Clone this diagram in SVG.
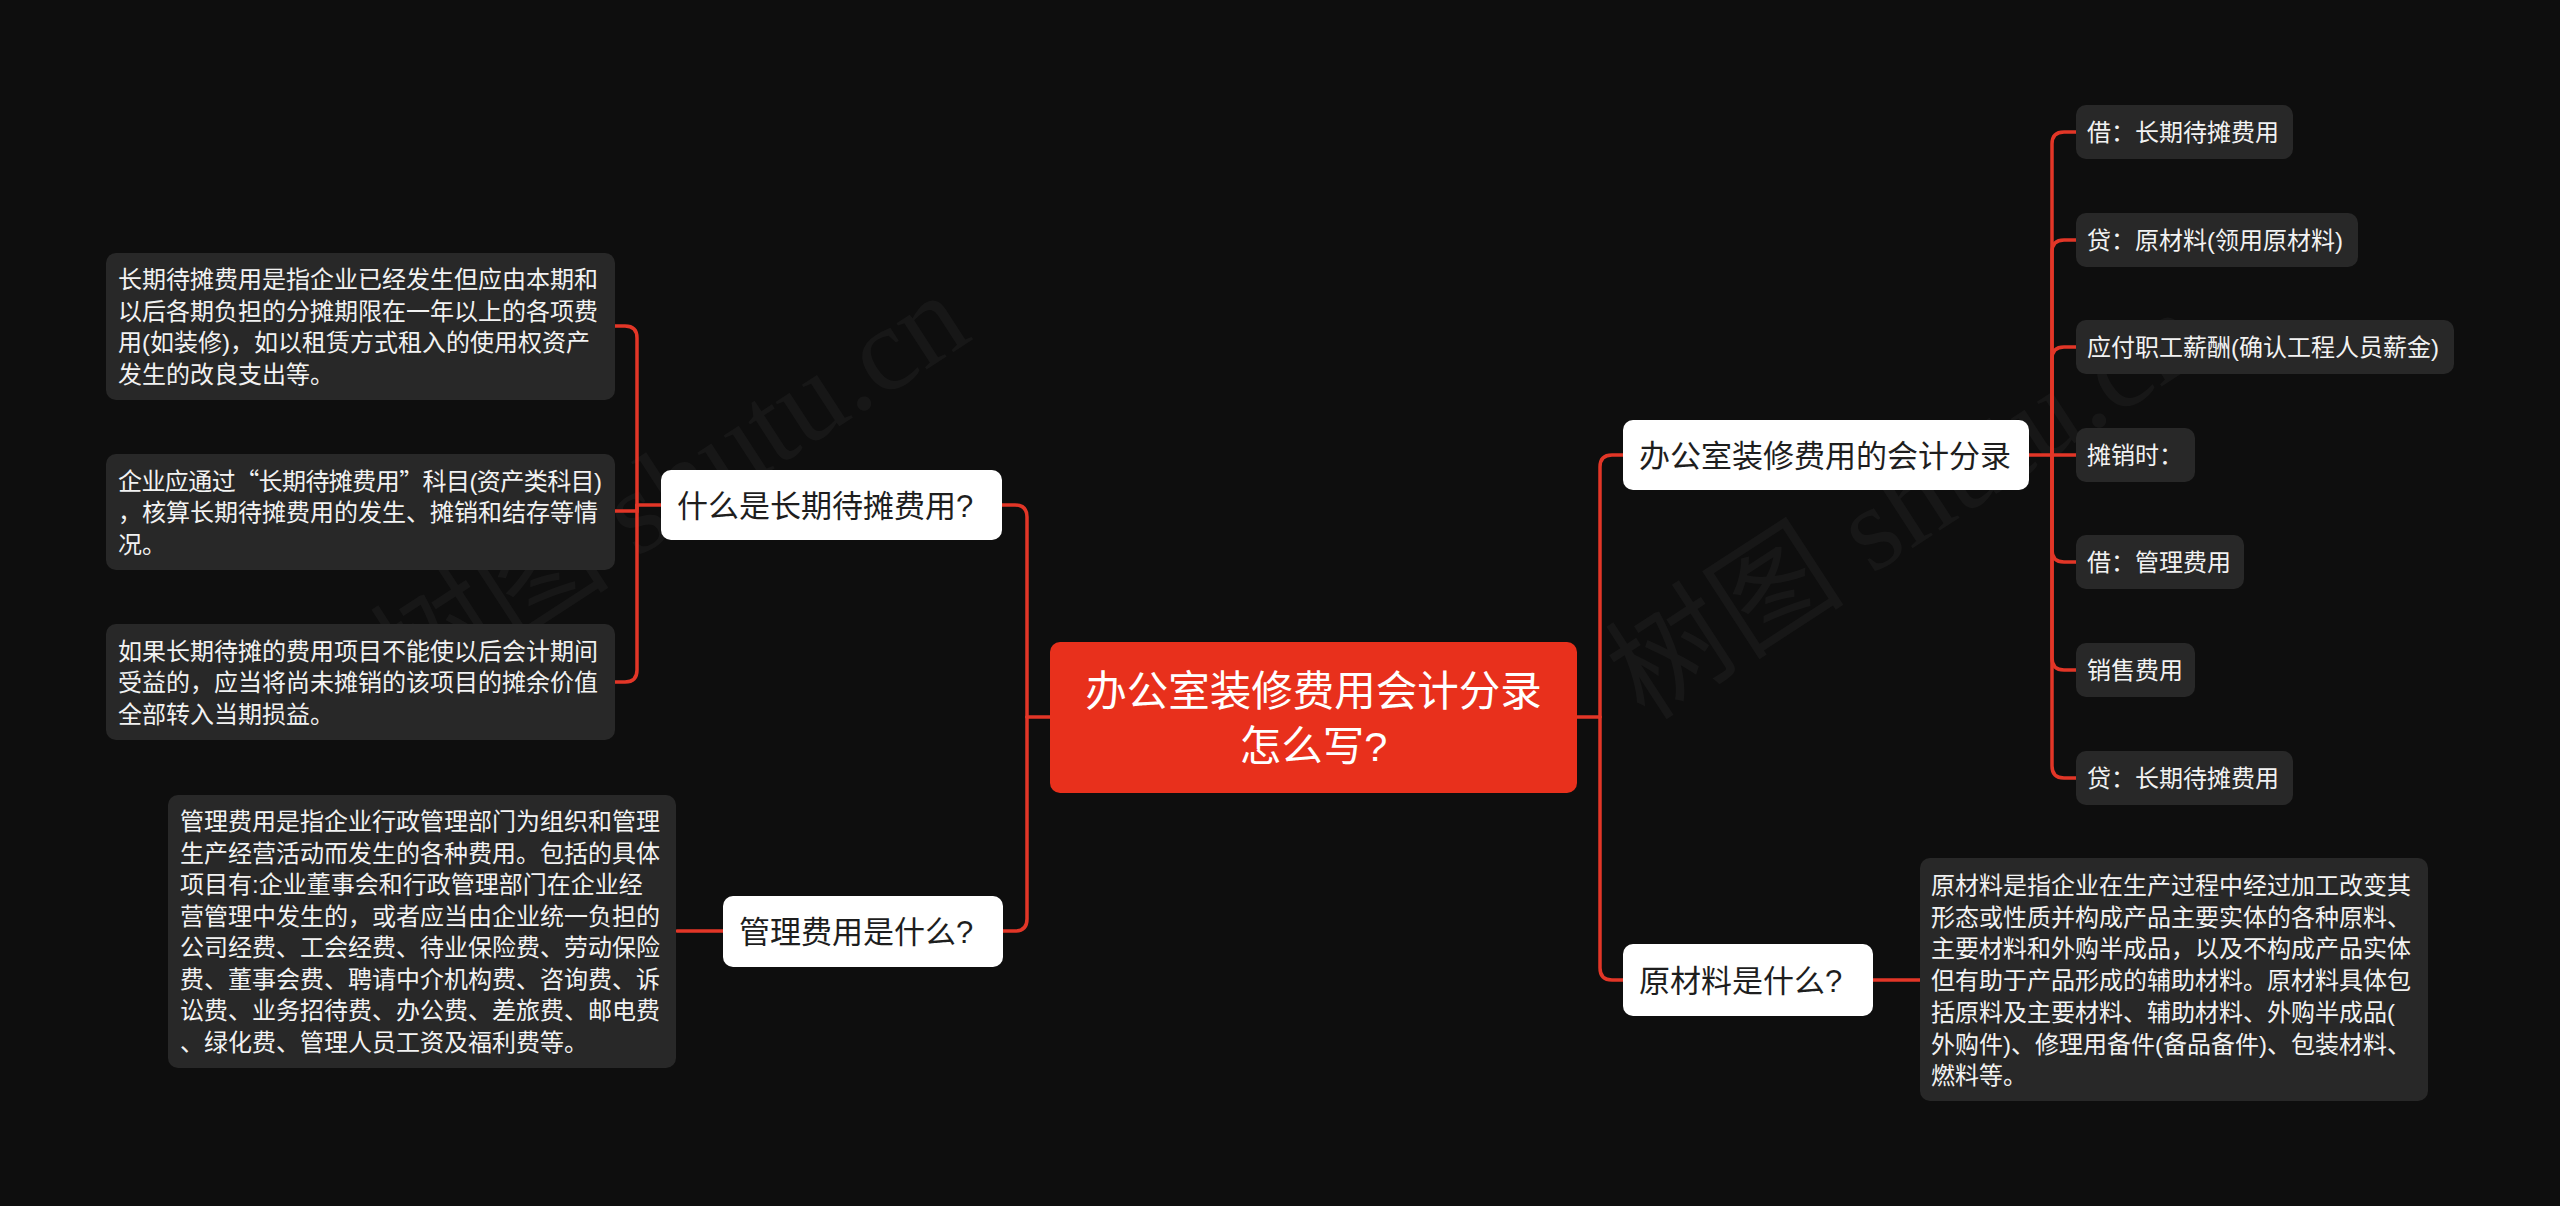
<svg xmlns="http://www.w3.org/2000/svg" width="2560" height="1206" viewBox="0 0 2560 1206">
<style>
text{font-family:"Liberation Sans","Noto Sans CJK SC",sans-serif}
.q{font-family:"Noto Sans CJK SC","Liberation Sans",sans-serif}
.desc{fill:#282828}
.dt{font-size:24px;fill:#f2f2f2}
.wn{fill:#ffffff}
.wt{font-size:31px;fill:#1e1e1e}
.lt{font-size:24px;fill:#f2f2f2}
.ct{font-size:41.5px;fill:#ffffff}
.con path{fill:none;stroke:#e23627;stroke-width:3.5;stroke-linecap:round}
.wm{font-family:"Liberation Serif","Noto Sans CJK SC",serif;font-size:120px;fill:#ffffff;fill-opacity:0.04}
</style>
<rect width="2560" height="1206" fill="#0e0e0e"/>
<g id="watermarks">
<text class="wm" transform="translate(410,705) rotate(-33)">树图 shutu.cn</text>
<text class="wm" transform="translate(1645,722) rotate(-33)">树图 shutu.cn</text>
</g>
<g id="connectors" class="con">
<path d="M1050 717 H1027"/>
<path d="M1027 717 V517 Q1027 505 1015 505 H1002"/>
<path d="M1027 717 V919 Q1027 931 1015 931 H1003"/>
<path d="M661 505 H637"/>
<path d="M637 505 V338 Q637 326 625 326 H615"/>
<path d="M637 505 V511 H615"/>
<path d="M637 505 V670 Q637 682 625 682 H615"/>
<path d="M723 931 H677"/>
<path d="M1577 717 H1600"/>
<path d="M1600 717 V467 Q1600 455 1612 455 H1623"/>
<path d="M1600 717 V968 Q1600 980 1612 980 H1623"/>
<path d="M1873 980 H1920"/>
<path d="M2029 455 H2076"/>
<path d="M2052 455 V144 Q2052 132 2064 132 H2076"/>
<path d="M2052 455 V252 Q2052 240 2064 240 H2076"/>
<path d="M2052 455 V359 Q2052 347 2064 347 H2076"/>
<path d="M2052 455 V550 Q2052 562 2064 562 H2076"/>
<path d="M2052 455 V658 Q2052 670 2064 670 H2076"/>
<path d="M2052 455 V766 Q2052 778 2064 778 H2076"/>
</g>
<g id="root">
<rect x="1050" y="642" width="527" height="151" rx="10" fill="#e8301c"/>
<text class="ct" x="1313.5" text-anchor="middle"><tspan x="1313.5" y="706">办公室装修费用会计分录</tspan><tspan x="1313.5" y="761">怎么写?</tspan></text>
</g>
<g id="n-changqi">
<rect class="wn" x="661" y="470" width="341" height="70" rx="10"/>
<text class="wt" x="677" y="516.5">什么是长期待摊费用?</text>
</g>
<g id="d-a">
<rect class="desc" x="106" y="253" width="509" height="147" rx="10"/>
<text class="dt"><tspan x="118" y="288">长期待摊费用是指企业已经发生但应由本期和</tspan><tspan x="118" y="319.5">以后各期负担的分摊期限在一年以上的各项费</tspan><tspan x="118" y="351">用(如装修)，如以租赁方式租入的使用权资产</tspan><tspan x="118" y="382.5">发生的改良支出等。</tspan></text>
</g>
<g id="d-b">
<rect class="desc" x="106" y="454" width="509" height="116" rx="10"/>
<text class="dt"><tspan x="118" y="489.5" textLength="484" lengthAdjust="spacing">企业应通过<tspan class="q">“</tspan>长期待摊费用<tspan class="q">”</tspan>科目(资产类科目)</tspan><tspan x="118" y="521">，核算长期待摊费用的发生、摊销和结存等情</tspan><tspan x="118" y="552.5">况。</tspan></text>
</g>
<g id="d-c">
<rect class="desc" x="106" y="624" width="509" height="116" rx="10"/>
<text class="dt"><tspan x="118" y="659.5">如果长期待摊的费用项目不能使以后会计期间</tspan><tspan x="118" y="691">受益的，应当将尚未摊销的该项目的摊余价值</tspan><tspan x="118" y="722.5">全部转入当期损益。</tspan></text>
</g>
<g id="n-guanli">
<rect class="wn" x="723" y="896" width="280" height="71" rx="10"/>
<text class="wt" x="739" y="942.5">管理费用是什么?</text>
</g>
<g id="d-d">
<rect class="desc" x="168" y="795" width="508" height="273" rx="10"/>
<text class="dt"><tspan x="180" y="830">管理费用是指企业行政管理部门为组织和管理</tspan><tspan x="180" y="861.5">生产经营活动而发生的各种费用。包括的具体</tspan><tspan x="180" y="893">项目有:企业董事会和行政管理部门在企业经</tspan><tspan x="180" y="924.5">营管理中发生的，或者应当由企业统一负担的</tspan><tspan x="180" y="956">公司经费、工会经费、待业保险费、劳动保险</tspan><tspan x="180" y="987.5">费、董事会费、聘请中介机构费、咨询费、诉</tspan><tspan x="180" y="1019">讼费、业务招待费、办公费、差旅费、邮电费</tspan><tspan x="180" y="1050.5">、绿化费、管理人员工资及福利费等。</tspan></text>
</g>
<g id="n-fenlu">
<rect class="wn" x="1623" y="420" width="406" height="70" rx="10"/>
<text class="wt" x="1639" y="466.5">办公室装修费用的会计分录</text>
</g>
<g id="l1"><rect class="desc" x="2076" y="105" width="217" height="54" rx="10"/><text class="lt" x="2087" y="141">借：长期待摊费用</text></g>
<g id="l2"><rect class="desc" x="2076" y="213" width="282" height="54" rx="10"/><text class="lt" x="2087" y="249">贷：原材料(领用原材料)</text></g>
<g id="l3"><rect class="desc" x="2076" y="320" width="378" height="54" rx="10"/><text class="lt" x="2087" y="356">应付职工薪酬(确认工程人员薪金)</text></g>
<g id="l4"><rect class="desc" x="2076" y="428" width="119" height="54" rx="10"/><text class="lt" x="2087" y="464">摊销时：</text></g>
<g id="l5"><rect class="desc" x="2076" y="535" width="168" height="54" rx="10"/><text class="lt" x="2087" y="571">借：管理费用</text></g>
<g id="l6"><rect class="desc" x="2076" y="643" width="119" height="54" rx="10"/><text class="lt" x="2087" y="679">销售费用</text></g>
<g id="l7"><rect class="desc" x="2076" y="751" width="217" height="54" rx="10"/><text class="lt" x="2087" y="787">贷：长期待摊费用</text></g>
<g id="n-yuancailiao">
<rect class="wn" x="1623" y="944" width="250" height="72" rx="10"/>
<text class="wt" x="1639" y="991.5">原材料是什么?</text>
</g>
<g id="d-e">
<rect class="desc" x="1920" y="858" width="508" height="243" rx="10"/>
<text class="dt"><tspan x="1931" y="894">原材料是指企业在生产过程中经过加工改变其</tspan><tspan x="1931" y="925.7">形态或性质并构成产品主要实体的各种原料、</tspan><tspan x="1931" y="957.4">主要材料和外购半成品，以及不构成产品实体</tspan><tspan x="1931" y="989.1">但有助于产品形成的辅助材料。原材料具体包</tspan><tspan x="1931" y="1020.8">括原料及主要材料、辅助材料、外购半成品(</tspan><tspan x="1931" y="1052.5">外购件)、修理用备件(备品备件)、包装材料、</tspan><tspan x="1931" y="1084.2">燃料等。</tspan></text>
</g>
</svg>
